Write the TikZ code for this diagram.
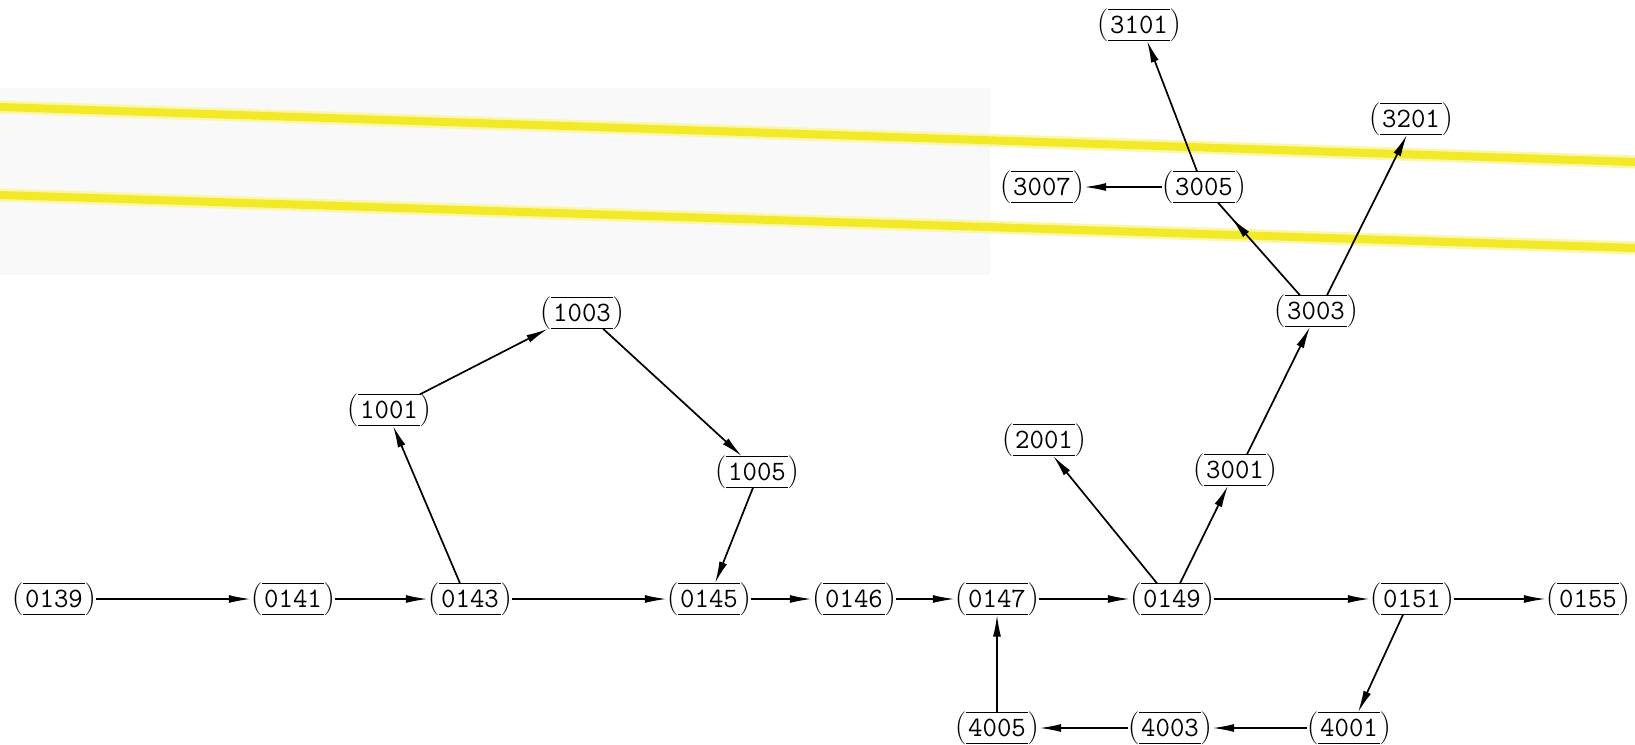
\documentclass[tikz,border=0pt]{standalone}
\usetikzlibrary{arrows.meta,calc,decorations.markings}
\newcommand\pl{{\fontsize{33}{33}\selectfont\rmfamily(}}
\newcommand\pr{{\fontsize{33}{33}\selectfont\rmfamily)}}
\newcommand\nbx[1]{\pl{\ttfamily\kern1.5pt#1\kern1.5pt}\pr}
\definecolor{hl}{RGB}{242,234,40}
\begin{document}
\begin{tikzpicture}[x=1pt,y=-1pt,
  nd/.style={inner xsep=0pt,inner ysep=0pt,text height=24pt,text depth=7pt,font=\fontsize{28}{30}\selectfont},
  bar/.style={line width=1.3pt},
  ed/.style={line width=1.7pt,-{Latex[length=22pt,width=8pt]}},
  midarrow/.style={line width=1.7pt,postaction={decorate},decoration={markings,mark=at position 0.84 with {\arrow{Latex[length=22pt,width=8pt]}}}},
  hlline/.style={line width=8pt,draw=hl}]
\useasboundingbox (0,0) rectangle (1635,744);
\fill[black!2.5] (0,88) rectangle (990,275);
\draw[hlline,draw=hl!40,line width=13pt] (0,107) -- (1635,162);
\draw[hlline] (0,107) -- (1635,162);
\draw[hlline,draw=hl!40,line width=13pt] (0,195) -- (1635,248);
\draw[hlline] (0,195) -- (1635,248);
% nodes
\node[nd] (n0139) at (54,599) {\nbx{0139}};
\node[nd] (n0141) at (293,599) {\nbx{0141}};
\node[nd] (n0143) at (470,599) {\nbx{0143}};
\node[nd] (n0145) at (709,599) {\nbx{0145}};
\node[nd] (n0146) at (854,599) {\nbx{0146}};
\node[nd] (n0147) at (997,599) {\nbx{0147}};
\node[nd] (n0149) at (1172,599) {\nbx{0149}};
\node[nd] (n0151) at (1412,599) {\nbx{0151}};
\node[nd] (n0155) at (1588,599) {\nbx{0155}};
\node[nd] (n1001) at (389,410) {\nbx{1001}};
\node[nd] (n1003) at (582,313) {\nbx{1003}};
\node[nd] (n1005) at (757,472) {\nbx{1005}};
\node[nd] (n2001) at (1044,440) {\nbx{2001}};
\node[nd] (n3001) at (1235,470) {\nbx{3001}};
\node[nd] (n3003) at (1316,311) {\nbx{3003}};
\node[nd] (n3005) at (1204,187) {\nbx{3005}};
\node[nd] (n3007) at (1042,187) {\nbx{3007}};
\node[nd] (n3101) at (1139,25) {\nbx{3101}};
\node[nd] (n3201) at (1411,119) {\nbx{3201}};
\node[nd] (n4005) at (997,728) {\nbx{4005}};
\node[nd] (n4003) at (1170,728) {\nbx{4003}};
\node[nd] (n4001) at (1349,728) {\nbx{4001}};
% bars above and below the numbers
\foreach \n in {0139,0141,0143,0145,0146,0147,0149,0151,0155,1001,1003,1005,2001,3001,3003,3005,3007,3101,3201,4005,4003,4001}{
  \draw[bar] ($(n\n.north west)+(11.5,0)$) -- ($(n\n.north east)+(-11.5,0)$);
  \draw[bar] ($(n\n.south west)+(11.5,0)$) -- ($(n\n.south east)+(-11.5,0)$);
}
% edges
\draw[ed] (n0139.east) -- (n0141.west);
\draw[ed] (n0141.east) -- (n0143.west);
\draw[ed] (n0143.east) -- (n0145.west);
\draw[ed] (n0145.east) -- (n0146.west);
\draw[ed] (n0146.east) -- (n0147.west);
\draw[ed] (n0147.east) -- (n0149.west);
\draw[ed] (n0149.east) -- (n0151.west);
\draw[ed] (n0151.east) -- (n0155.west);
\draw[ed] ($(n0143.north)+(-10,0)$) -- ($(n1001.south)+(4,0)$);
\draw[ed] ($(n1001.north)+(31,0)$) -- ($(n1003.south)+(-34,0)$);
\draw[ed] ($(n1003.south)+(21,0)$) -- ($(n1005.north)+(-15,0)$);
\draw[ed] ($(n1005.south)+(-4,0)$) -- ($(n0145.north)+(6,0)$);
\draw[ed] ($(n0149.north)+(-15,0)$) -- ($(n2001.south)+(9,0)$);
\draw[ed] ($(n0149.north)+(8,0)$) -- ($(n3001.south)+(-7,0)$);
\draw[ed] ($(n3001.north)+(12,0)$) -- ($(n3003.south)+(-6,0)$);
\draw[midarrow] ($(n3003.north)+(-16,0)$) -- ($(n3005.south)+(14,0)$);
\draw[ed] ($(n3003.north)+(11,0)$) -- ($(n3201.south)+(-4,0)$);
\draw[ed] ($(n3005.north)+(-7,0)$) -- ($(n3101.south)+(8,0)$);
\draw[ed] (n3005.west) -- (n3007.east);
\draw[ed] ($(n0151.south)+(-9,0)$) -- ($(n4001.north)+(9,0)$);
\draw[ed] (n4001.west) -- (n4003.east);
\draw[ed] (n4003.west) -- (n4005.east);
\draw[ed] (n4005.north) -- (n0147.south);
\end{tikzpicture}
\end{document}
